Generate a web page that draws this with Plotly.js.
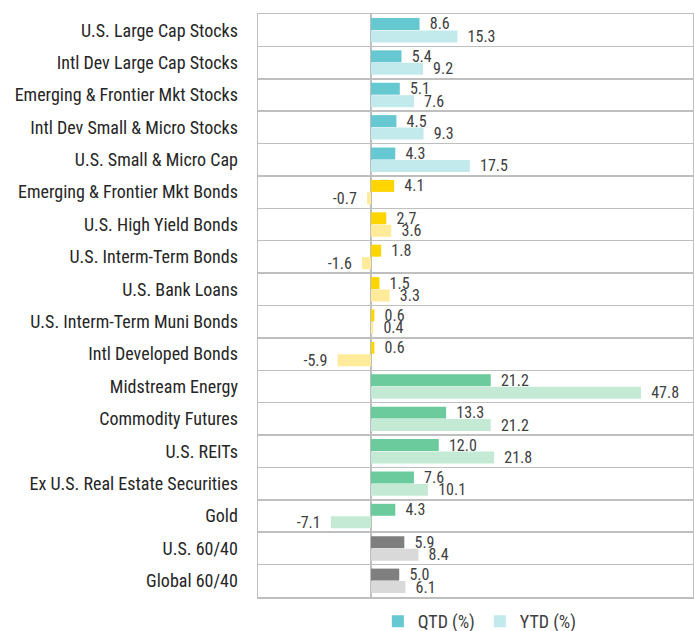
<!DOCTYPE html>
<html>
<head>
<meta charset="utf-8">
<script src="https://cdn.plot.ly/plotly-3.0.1.min.js"></script>
<style>html,body{margin:0;padding:0;background:#fff;}#chart{width:694px;height:631px;}</style>
</head>
<body>
<div id="chart"></div>
<script>
const categories = [
  "U.S. Large Cap Stocks",
  "Intl Dev Large Cap Stocks",
  "Emerging & Frontier Mkt Stocks",
  "Intl Dev Small & Micro Stocks",
  "U.S. Small & Micro Cap",
  "Emerging & Frontier Mkt Bonds",
  "U.S. High Yield Bonds",
  "U.S. Interm-Term Bonds",
  "U.S. Bank Loans",
  "U.S. Interm-Term Muni Bonds",
  "Intl Developed Bonds",
  "Midstream Energy",
  "Commodity Futures",
  "U.S. REITs",
  "Ex U.S. Real Estate Securities",
  "Gold",
  "U.S. 60/40",
  "Global 60/40"
];
const qtd = [8.6, 5.4, 5.1, 4.5, 4.3, 4.1, 2.7, 1.8, 1.5, 0.6, 0.6, 21.2, 13.3, 12.0, 7.6, 4.3, 5.9, 5.0];
const ytd = [15.3, 9.2, 7.6, 9.3, 17.5, -0.7, 3.6, -1.6, 3.3, 0.4, -5.9, 47.8, 21.2, 21.8, 10.1, -7.1, 8.4, 6.1];
const groups = ["stock","stock","stock","stock","stock","bond","bond","bond","bond","bond","bond","real","real","real","real","real","mix","mix"];

const qtdColors = {stock: "#66C8D0", bond: "#FFD500", real: "#6BCB9C", mix: "#7F7F7F"};
const ytdColors = {stock: "#C2EAEC", bond: "#FFEB99", real: "#C4EAD5", mix: "#D9D9D9"};

const pad = "\u2002";
const lbl = v => v >= 0 ? pad + v.toFixed(1) : v.toFixed(1) + pad;

const font = "'Roboto Condensed', 'Liberation Sans Narrow', 'Arial Narrow', Roboto, sans-serif";

const traces = [
  {
    type: "bar", orientation: "h", name: "QTD (%)",
    y: categories, x: qtd,
    marker: {color: groups.map(g => qtdColors[g])},
    text: qtd.map(lbl), textposition: "outside", constraintext: "none", cliponaxis: false,
    textfont: {family: font, size: 16, color: "#404040"},
    hoverinfo: "x+y"
  },
  {
    type: "bar", orientation: "h", name: "YTD (%)",
    y: categories, x: ytd,
    marker: {color: groups.map(g => ytdColors[g])},
    text: ytd.map(lbl), textposition: "outside", constraintext: "none", cliponaxis: false,
    textfont: {family: font, size: 16, color: "#404040"},
    hoverinfo: "x+y"
  }
];

const layout = {
  width: 694, height: 631,
  margin: {l: 258, r: 1, t: 14, b: 34, pad: 0, autoexpand: false},
  paper_bgcolor: "#ffffff", plot_bgcolor: "#ffffff",
  font: {family: font, size: 18, color: "#262626"},
  barmode: "group", bargap: 0.23, bargroupgap: 0.04,
  showlegend: true,
  legend: {
    orientation: "h", xref: "paper", x: 0.51, xanchor: "center",
    yref: "container", y: 0.015, yanchor: "middle",
    font: {family: font, size: 18, color: "#404040"},
    traceorder: "normal", itemwidth: 30
  },
  xaxis: {
    range: [-20, 57], showgrid: false, zeroline: true, zerolinecolor: "#BFBFBF", zerolinewidth: 2,
    showticklabels: false, ticks: "", showline: true, mirror: true, linecolor: "#BFBFBF", linewidth: 1.5,
    fixedrange: true
  },
  yaxis: {
    type: "category", autorange: "reversed", tickson: "boundaries",
    showgrid: true, gridcolor: "#BFBFBF", gridwidth: 1.5,
    showline: true, mirror: true, linecolor: "#BFBFBF", linewidth: 1.5,
    ticks: "", ticklabelstandoff: 15,
    tickfont: {family: font, size: 18, color: "#262626"},
    fixedrange: true
  }
};

Plotly.newPlot("chart", traces, layout, {displayModeBar: false, staticPlot: true});
</script>
</body>
</html>
